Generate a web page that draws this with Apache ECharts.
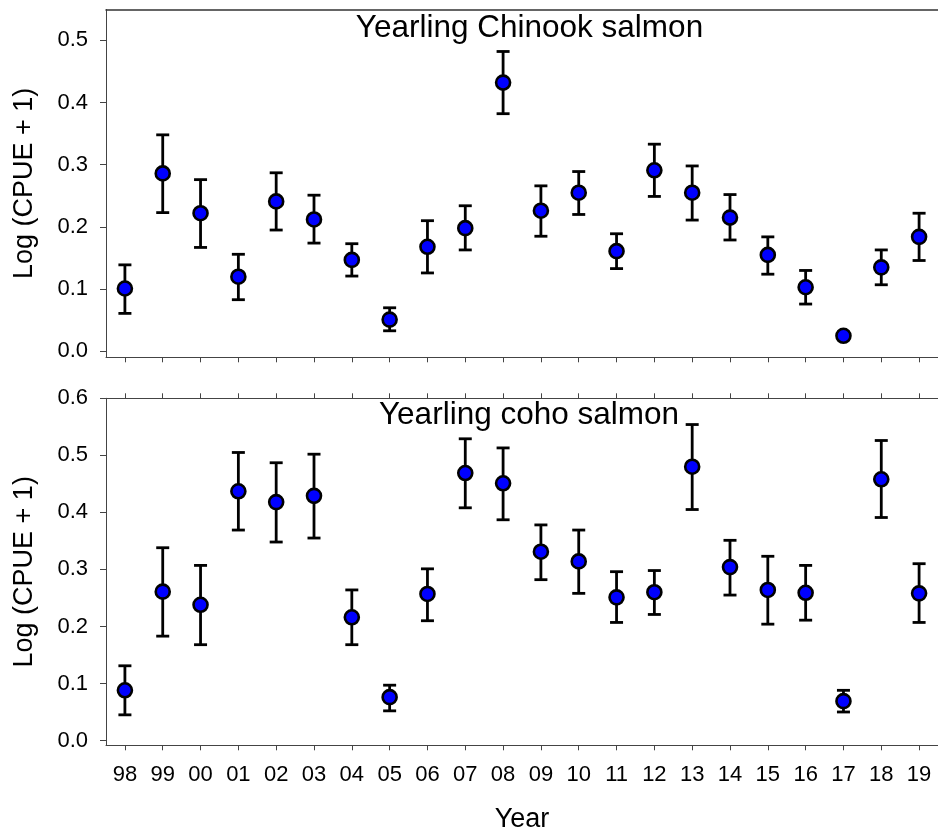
<!DOCTYPE html>
<html>
<head>
<meta charset="utf-8">
<script src="https://cdn.jsdelivr.net/npm/echarts@6/dist/echarts.min.js"></script>
<style>
  html, body { margin: 0; padding: 0; background: #fff; }
  #chart { width: 938px; height: 835px; }
</style>
</head>
<body>
<div id="chart"></div>
<script>
// years on the x axis (two digit labels)
const years = ['98', '99', '00', '01', '02', '03', '04', '05', '06', '07', '08',
               '09', '10', '11', '12', '13', '14', '15', '16', '17', '18', '19'];

// yearling Chinook salmon, log(CPUE + 1): mean and error bar ends
const chinookMean = [0.101, 0.286, 0.222, 0.120, 0.241, 0.212, 0.147, 0.051, 0.168, 0.198, 0.432,
                     0.226, 0.255, 0.161, 0.291, 0.255, 0.215, 0.155, 0.103, 0.025, 0.135, 0.184];
const chinookHigh = [0.139, 0.348, 0.276, 0.156, 0.287, 0.251, 0.173, 0.070, 0.210, 0.234, 0.482,
                     0.266, 0.289, 0.189, 0.333, 0.298, 0.252, 0.184, 0.130, 0.031, 0.163, 0.222];
const chinookLow  = [0.061, 0.223, 0.167, 0.083, 0.195, 0.174, 0.121, 0.033, 0.126, 0.163, 0.382,
                     0.185, 0.220, 0.133, 0.249, 0.211, 0.179, 0.124, 0.076, 0.019, 0.107, 0.146];

// yearling coho salmon
const cohoMean = [0.088, 0.261, 0.238, 0.437, 0.418, 0.429, 0.216, 0.076, 0.257, 0.469, 0.451,
                  0.331, 0.314, 0.251, 0.260, 0.480, 0.304, 0.264, 0.259, 0.069, 0.458, 0.258];
const cohoHigh = [0.131, 0.338, 0.307, 0.505, 0.487, 0.502, 0.264, 0.097, 0.301, 0.529, 0.513,
                  0.378, 0.369, 0.296, 0.298, 0.554, 0.351, 0.323, 0.307, 0.088, 0.526, 0.310];
const cohoLow  = [0.045, 0.183, 0.168, 0.369, 0.348, 0.355, 0.168, 0.052, 0.210, 0.408, 0.387,
                  0.282, 0.258, 0.207, 0.221, 0.405, 0.255, 0.204, 0.211, 0.050, 0.391, 0.207];

const chinookTicks = [0, 0.1, 0.2, 0.3, 0.4, 0.5];
const cohoTicks = [0, 0.1, 0.2, 0.3, 0.4, 0.5, 0.6];

const FONT = 'Liberation Sans, Arial, sans-serif';
const AXIS_COLOR = '#444';

const chart = echarts.init(document.getElementById('chart'));

// error bars: vertical line plus two caps
function renderErrorBar(params, api) {
  const x = api.value(0);
  const lo = api.coord([x, api.value(1)]);
  const hi = api.coord([x, api.value(2)]);
  const cap = 6.5;
  const style = { stroke: '#000', lineWidth: 2.8 };
  return {
    type: 'group',
    children: [
      { type: 'line', shape: { x1: lo[0], y1: lo[1], x2: hi[0], y2: hi[1] }, style: style },
      { type: 'line', shape: { x1: hi[0] - cap, y1: hi[1], x2: hi[0] + cap, y2: hi[1] }, style: style },
      { type: 'line', shape: { x1: lo[0] - cap, y1: lo[1], x2: lo[0] + cap, y2: lo[1] }, style: style }
    ]
  };
}

function barData(low, high) {
  return low.map((v, i) => [i, v, high[i]]);
}
function pointData(mean) {
  return mean.map((v, i) => [i, v]);
}

function yAxisFor(gridIndex, min, max, ticks) {
  return {
    type: 'value',
    gridIndex: gridIndex,
    min: min,
    max: max,
    name: 'Log (CPUE + 1)',
    nameLocation: 'middle',
    nameGap: 68,
    nameTextStyle: { fontFamily: FONT, fontSize: 27, color: '#000' },
    axisLine: { show: true, lineStyle: { color: AXIS_COLOR, width: 1 } },
    axisTick: { show: true, inside: false, length: 6, customValues: ticks, lineStyle: { color: AXIS_COLOR } },
    axisLabel: {
      customValues: ticks, margin: 18, fontFamily: FONT, fontSize: 22, color: '#000',
      formatter: v => v.toFixed(1)
    },
    splitLine: { show: false }
  };
}

function xAxisFor(gridIndex, position, opts) {
  return Object.assign({
    type: 'category',
    gridIndex: gridIndex,
    position: position,
    data: years,
    boundaryGap: true,
    axisLine: { show: true, onZero: false, lineStyle: { color: AXIS_COLOR, width: 1 } },
    axisTick: { show: true, alignWithLabel: true, inside: false, length: 5, lineStyle: { color: AXIS_COLOR } },
    axisLabel: { show: false },
    splitLine: { show: false }
  }, opts);
}

const option = {
  backgroundColor: '#fff',
  animation: false,
  title: [
    {
      text: 'Yearling Chinook salmon', left: 529.5, top: 12, textAlign: 'center', padding: 0,
      textStyle: { fontFamily: FONT, fontSize: 31.5, fontWeight: 'normal', color: '#000' }
    },
    {
      text: 'Yearling coho salmon', left: 529, top: 399.5, textAlign: 'center', padding: 0,
      textStyle: { fontFamily: FONT, fontSize: 31.5, fontWeight: 'normal', color: '#000' }
    }
  ],
  grid: [
    { left: 106, right: -4, top: 9.5, height: 347.8 },
    { left: 106, right: -4, top: 398.3, height: 347 }
  ],
  xAxis: [
    xAxisFor(0, 'bottom', {}),
    xAxisFor(0, 'top', { axisTick: { show: false }, axisLine: { show: true, onZero: false, lineStyle: { color: '#333', width: 1.5 } } }),
    xAxisFor(1, 'bottom', {
      name: 'Year', nameLocation: 'middle', nameGap: 61,
      nameTextStyle: { fontFamily: FONT, fontSize: 27, color: '#000' },
      axisLabel: { show: true, interval: 0, margin: 19, fontFamily: FONT, fontSize: 22, color: '#000' }
    }),
    xAxisFor(1, 'top', {})
  ],
  yAxis: [
    yAxisFor(0, -0.0096, 0.5495, chinookTicks),
    yAxisFor(1, -0.0084, 0.6, cohoTicks)
  ],
  series: [
    {
      type: 'custom', xAxisIndex: 0, yAxisIndex: 0, renderItem: renderErrorBar,
      data: barData(chinookLow, chinookHigh), encode: { x: 0, y: [1, 2] }, z: 2
    },
    {
      type: 'scatter', xAxisIndex: 0, yAxisIndex: 0, data: pointData(chinookMean),
      symbol: 'circle', symbolSize: 14,
      itemStyle: { color: '#0000ff', borderColor: '#000', borderWidth: 2.6, opacity: 1 }, z: 3
    },
    {
      type: 'custom', xAxisIndex: 2, yAxisIndex: 1, renderItem: renderErrorBar,
      data: barData(cohoLow, cohoHigh), encode: { x: 0, y: [1, 2] }, z: 2
    },
    {
      type: 'scatter', xAxisIndex: 2, yAxisIndex: 1, data: pointData(cohoMean),
      symbol: 'circle', symbolSize: 14,
      itemStyle: { color: '#0000ff', borderColor: '#000', borderWidth: 2.6, opacity: 1 }, z: 3
    }
  ]
};

chart.setOption(option);
</script>
</body>
</html>
